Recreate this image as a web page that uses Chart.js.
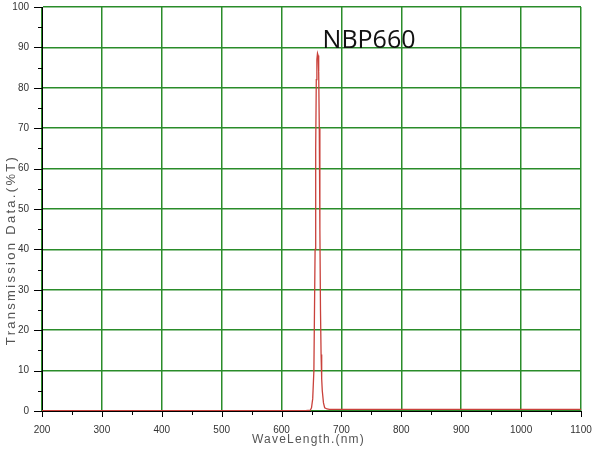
<!doctype html>
<html>
<head>
    <title>NBP660 transmission</title>
    <script src="https://cdn.jsdelivr.net/npm/chart.js"></script>
    <style>
        body { margin: 0; background: #fff; }
        #chart { display: block; }
    </style>
</head>
<body>
    <canvas id="chart" width="593" height="451"></canvas>

    <script>
        // Data (nm, %T)
        var wavelength   = [200, 300, 400, 500, 600, 640, 648, 650, 652, 654, 656, 657, 658, 659, 660, 661, 662, 663, 664, 665, 666, 667, 668, 670, 672, 676, 680, 700, 800, 900, 1000, 1100];
        var transmission = [0.1, 0.1, 0.1, 0.1, 0.1, 0.1, 0.2, 0.8, 3, 10, 40, 65, 82, 87, 88.5, 88, 84, 70, 45, 25, 14, 8, 5, 2, 0.8, 0.5, 0.4, 0.4, 0.4, 0.4, 0.4, 0.4];

        var filterName = 'NBP660';
        var xTitle = 'WaveLength.(nm)';
        var yTitle = 'Transmission Data.(%T)';

        var gridGreen = '#2a8c2a';
        var tickFont = { family: "'Liberation Sans', Arial, sans-serif", size: 10 };

        var points = [];
        for (var i = 0; i < wavelength.length; i++) points.push({ x: wavelength[i], y: transmission[i] });

        // minor + major ticks on the outside of both axes, and the text
        var decorations = {
            id: 'decorations',
            afterDraw: function(chart) {
                var c = chart.ctx, xs = chart.scales.x, ys = chart.scales.y, area = chart.chartArea;
                c.save();
                c.strokeStyle = '#000';
                c.lineWidth = 1;
                c.beginPath();
                for (var v = 200; v <= 1100; v += 50) {
                    var px = Math.round(xs.getPixelForValue(v)) + 0.5;
                    c.moveTo(px, area.bottom);
                    c.lineTo(px, area.bottom + (v % 100 === 0 ? 6 : 4));
                }
                for (var t = 0; t <= 100; t += 5) {
                    var py = Math.round(ys.getPixelForValue(t)) + 0.5;
                    c.moveTo(area.left, py);
                    c.lineTo(area.left - (t % 10 === 0 ? 8 : 4), py);
                }
                c.stroke();

                // axis titles
                c.fillStyle = '#555';
                c.textAlign = 'center';
                c.textBaseline = 'middle';
                c.font = "12px 'Liberation Sans', Arial, sans-serif";
                c.letterSpacing = '1.2px';
                c.fillText(xTitle, (area.left + area.right) / 2 - 3, 440);

                c.save();
                c.translate(11, 250);
                c.rotate(-Math.PI / 2);
                c.font = "13px 'Liberation Sans', Arial, sans-serif";
                c.letterSpacing = '2.3px';
                c.fillText(yTitle, 0, 0);
                c.restore();

                // filter label next to the peak
                c.letterSpacing = '0px';
                c.fillStyle = '#111';
                c.textAlign = 'left';
                c.textBaseline = 'alphabetic';
                c.font = "25px 'Open Sans', 'Noto Sans', sans-serif";
                c.fillText(filterName, xs.getPixelForValue(668.5), ys.getPixelForValue(89.9));
                c.restore();
            }
        };

        var ctx = document.getElementById('chart').getContext('2d');
        var chart = new Chart(ctx, {
            type: 'line',
            data: {
                datasets: [{
                    label: filterName,
                    data: points,
                    borderColor: '#c9413b',
                    borderWidth: 1.3,
                    pointRadius: 0,
                    tension: 0,
                    fill: false
                }]
            },
            options: {
                responsive: false,
                animation: false,
                layout: { padding: { top: 7, right: 12, left: 0, bottom: 0 } },
                plugins: {
                    legend: { display: false },
                    tooltip: { enabled: false }
                },
                scales: {
                    x: {
                        type: 'linear',
                        min: 200,
                        max: 1100,
                        afterFit: function(s) { s.height = 40; s.paddingLeft = 0; s.paddingRight = 0; },
                        grid: { color: gridGreen, lineWidth: 1.5, drawTicks: false },
                        border: { color: '#000', width: 1 },
                        ticks: {
                            stepSize: 100, padding: 13, color: '#333', font: tickFont, maxRotation: 0,
                            callback: function(v) { return String(v); }
                        }
                    },
                    y: {
                        min: 0,
                        max: 100,
                        afterFit: function(s) { s.width = 42; s.paddingTop = 0; s.paddingBottom = 0; },
                        grid: { color: gridGreen, lineWidth: 1.5, drawTicks: false },
                        border: { color: '#000', width: 1 },
                        ticks: { stepSize: 10, padding: 13, color: '#333', font: tickFont }
                    }
                }
            },
            plugins: [decorations]
        });
    </script>
</body>
</html>
